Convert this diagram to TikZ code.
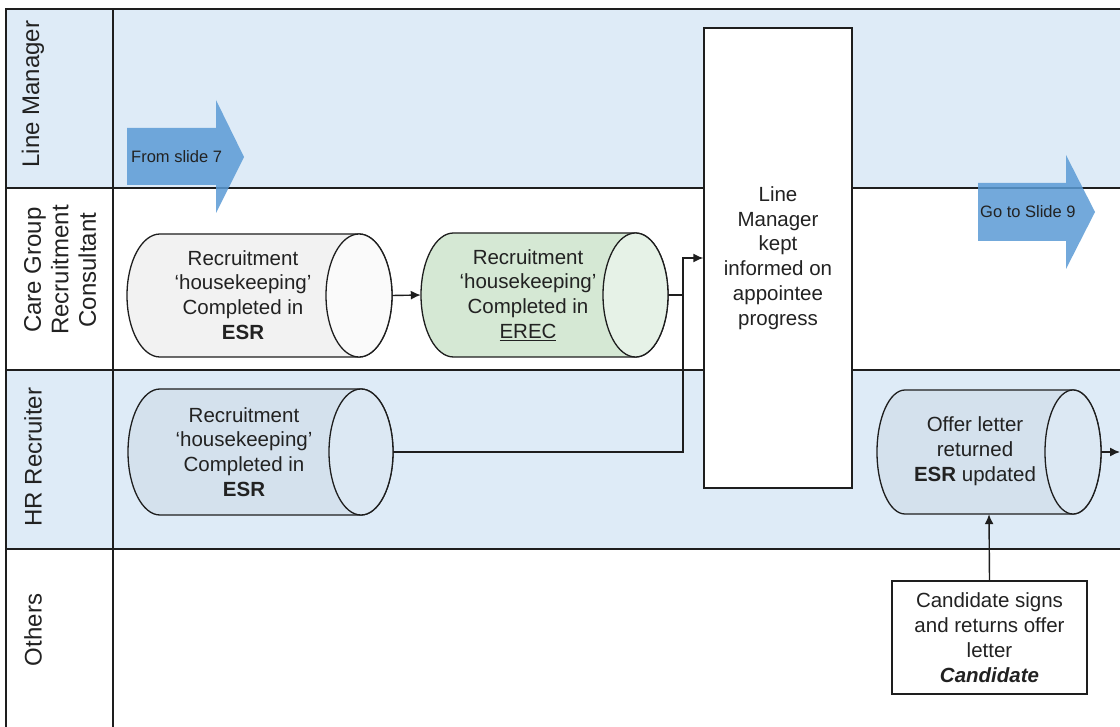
\documentclass[tikz,border=0pt]{standalone}
\usepackage{fontspec}
\setmainfont{Liberation Sans}
\usetikzlibrary{arrows.meta}

\definecolor{lanebg}{HTML}{DEEBF7}
\definecolor{linec}{HTML}{1E1E1E}
\definecolor{txt}{HTML}{222222}
\definecolor{arrowblue}{HTML}{5B9BD5}
\definecolor{greybody}{HTML}{F2F2F2}
\definecolor{greyface}{HTML}{FAFAFA}
\definecolor{greenbody}{HTML}{D5E8D4}
\definecolor{greenface}{HTML}{E6F2E7}
\definecolor{bluebody}{HTML}{D4E1ED}
\definecolor{blueface}{HTML}{DCE8F3}

% horizontal cylinder: name, x0, x1, top, bottom, end radius, body colour, end colour
\newcommand\drawcyl[8]{%
  \pgfmathsetmacro\cylmid{(#4+#5)/2}%
  \pgfmathsetmacro\cylry{(#5-#4)/2}%
  \filldraw[cylline, fill=#7] (#2+#6,#4) -- (#3-#6,#4)
    arc[start angle=-90, end angle=90, x radius=#6, y radius=\cylry]
    -- (#2+#6,#5)
    arc[start angle=90, end angle=270, x radius=#6, y radius=\cylry] -- cycle;
  \filldraw[cylline, fill=#8] (#3-#6,\cylmid) ellipse[x radius=#6, y radius=\cylry];
  \node[inner sep=0pt, minimum width={#3-#2}, minimum height={#5-#4}] (#1) at ({(#2+#3)/2},\cylmid) {};
}

\begin{document}
\begin{tikzpicture}[x=1pt, y=-1pt,
  lanelabel/.style={text=txt, font=\fontsize{24}{27.5}\selectfont, rotate=90, align=center, inner sep=0pt},
  cylline/.style={draw=linec, line width=1.3pt},
  celltext/.style={text=txt, font=\fontsize{20.5}{24.8}\selectfont, align=center, inner sep=0pt},
  arrowtext/.style={text=txt, font=\fontsize{16.5}{20}\selectfont, inner sep=0pt, anchor=west},
  lanerule/.style={draw=linec, line width=1.4pt},
  blockarrow/.style={fill=arrowblue, fill opacity=0.85, draw=none},
  procbox/.style={draw=linec, line width=1.4pt, fill=white, inner sep=0pt},
  conn/.style={draw=linec, line width=1.4pt},
  arr/.style={conn, -{Latex[length=10pt,width=9pt]}}
]
\useasboundingbox (0,0) rectangle (1120,727);
\fill[white] (0,0) rectangle (1120,727);

% lane backgrounds
\fill[lanebg] (6,9) rectangle (1120,188);
\fill[lanebg] (6,370) rectangle (1120,549);

% lane rules
\draw[lanerule] (1120,9) -- (6,9) -- (6,727);
\draw[lanerule] (113,9) -- (113,727);
\draw[lanerule] (6,188) -- (1120,188);
\draw[lanerule] (6,370) -- (1120,370);
\draw[lanerule] (6,549) -- (1120,549);

% lane labels
\node[lanelabel] (lLM) at (33,94) {Line Manager};
\node[lanelabel] (lCG) at (60,270) {Care Group\\Recruitment\\Consultant};
\node[lanelabel] (lHR) at (33,457) {HR Recruiter};
\node[lanelabel] (lOT) at (33,630) {Others};

% off-page block arrows
\path[blockarrow] (127,128) -- (216,128) -- (216,100) -- (244,157) -- (216,213) -- (216,185) -- (127,185) -- cycle;
\node[arrowtext] (from7) at (131,157) {From slide 7};
\path[blockarrow] (978,183) -- (1066,183) -- (1066,155) -- (1095,212) -- (1066,269) -- (1066,241) -- (978,241) -- cycle;
\node[arrowtext] (goto9) at (980,212) {Go to Slide 9};

% data stores
\drawcyl{esr1}{127}{392}{234}{357}{33}{greybody}{greyface}
\node[celltext] (esr1t) at (243,295) {Recruitment\\‘housekeeping’\\Completed in\\\textbf{ESR}};

\drawcyl{erec}{421}{668}{233}{357}{32.5}{greenbody}{greenface}
\node[celltext] (erect) at (528,295) {Recruitment\\‘housekeeping’\\Completed in\\\underline{EREC}};

\drawcyl{esr2}{128}{393}{389}{515}{32}{bluebody}{blueface}
\node[celltext] (esr2t) at (244,452) {Recruitment\\‘housekeeping’\\Completed in\\\textbf{ESR}};

\drawcyl{offer}{877}{1101}{390}{514}{28}{bluebody}{blueface}
\node[celltext] (offert) at (975,451) {Offer letter\\returned\\\textbf{ESR} updated};

% process boxes
\node[procbox, minimum width=148pt, minimum height=460pt] (lm) at (778,258) {};
\node[celltext] (lmt) at (778,258) {Line\\Manager\\kept\\informed on\\appointee\\progress};

\node[procbox, minimum width=195pt, minimum height=113pt, celltext, draw=linec, line width=1.4pt, fill=white] (cand) at (989.5,637.5)
  {Candidate signs\\and returns offer\\letter\\\textbf{\textit{Candidate}}};

% connectors
\coordinate (jn) at (683,295);
\coordinate (exit) at (1120,452);
\draw[arr] (esr1.east) -- (erec.west);
\draw[arr] (erec.east) -- (jn) |- (lm.west);
\draw[conn] (esr2.east) -| (jn);
\draw[arr] (offer.east) -- (exit);
\draw[arr] (cand.north) -- (offer.south);
\end{tikzpicture}
\end{document}
